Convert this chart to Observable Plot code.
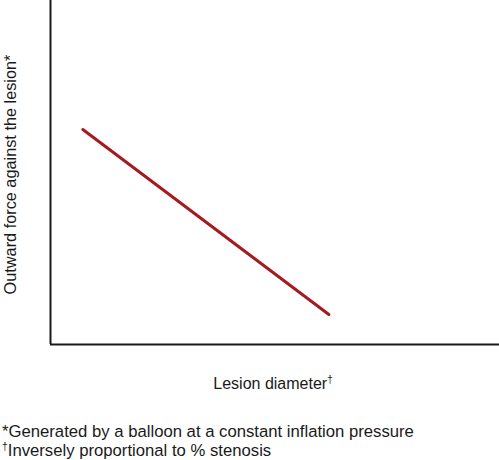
<!DOCTYPE html>
<html>
<head>
<meta charset="utf-8">
<script src="https://cdn.jsdelivr.net/npm/d3@7"></script>
<script src="https://cdn.jsdelivr.net/npm/@observablehq/plot@0.6"></script>
<style>
  html, body { margin: 0; padding: 0; background: #fff; }
  #chart svg { display: block; }
  #notes {
    font-family: "Liberation Sans", Arial, sans-serif;
    font-size: 16.7px;
    line-height: 19px;
    color: #1a1a1a;
    margin: 22px 0 0 2px;
  }
  .sup { font-size: 0.62em; vertical-align: 0.55em; line-height: 0; }
</style>
</head>
<body>
<div id="chart"></div>
<div id="notes">
  <div>*Generated by a balloon at a constant inflation pressure</div>
  <div><span class="sup">†</span>Inversely proportional to % stenosis</div>
</div>
<script>
// Schematic data (arbitrary units)
const lesionDiameter = [7.2, 62];
const outwardForce = [62.5, 8.7];
const xLabel = "Lesion diameter";
const yLabel = "Outward force against the lesion*";

const data = lesionDiameter.map((x, i) => ({x, y: outwardForce[i]}));

const chart = Plot.plot({
  width: 499,
  height: 400,
  marginLeft: 50,
  marginRight: 0,
  marginTop: 0,
  marginBottom: 56,
  x: {domain: [0, 100], axis: null},
  y: {domain: [0, 100], axis: null},
  style: {fontFamily: "'Liberation Sans', Arial, sans-serif", fontSize: "16px", color: "#1a1a1a", background: "#fff"},
  marks: [
    Plot.ruleX([0], {stroke: "#1a1a1a", strokeWidth: 2}),
    Plot.ruleY([0], {stroke: "#1a1a1a", strokeWidth: 2}),
    Plot.line(data, {x: "x", y: "y", stroke: "#a51a21", strokeWidth: 3}),
    Plot.text([xLabel + "†"], {text: d => d, frameAnchor: "bottom", lineAnchor: "bottom", dy: 44, dx: -2, fontSize: 16, fill: "#1a1a1a"}),
    Plot.text([yLabel], {text: d => d, frameAnchor: "left", textAnchor: "middle", rotate: -90, lineAnchor: "bottom", dx: -35, dy: 2, fontSize: 16.3, fill: "#1a1a1a"})
  ]
});
document.getElementById("chart").appendChild(chart);

// Render the dagger on the x label as a superscript
d3.select(chart).selectAll("text").each(function() {
  const t = this.textContent;
  if (t.endsWith("†")) {
    const el = d3.select(this);
    el.text(t.slice(0, -1));
    el.append("tspan").attr("font-size", "10px").attr("dy", "-0.55em").text("†");
  }
});
</script>
</body>
</html>
